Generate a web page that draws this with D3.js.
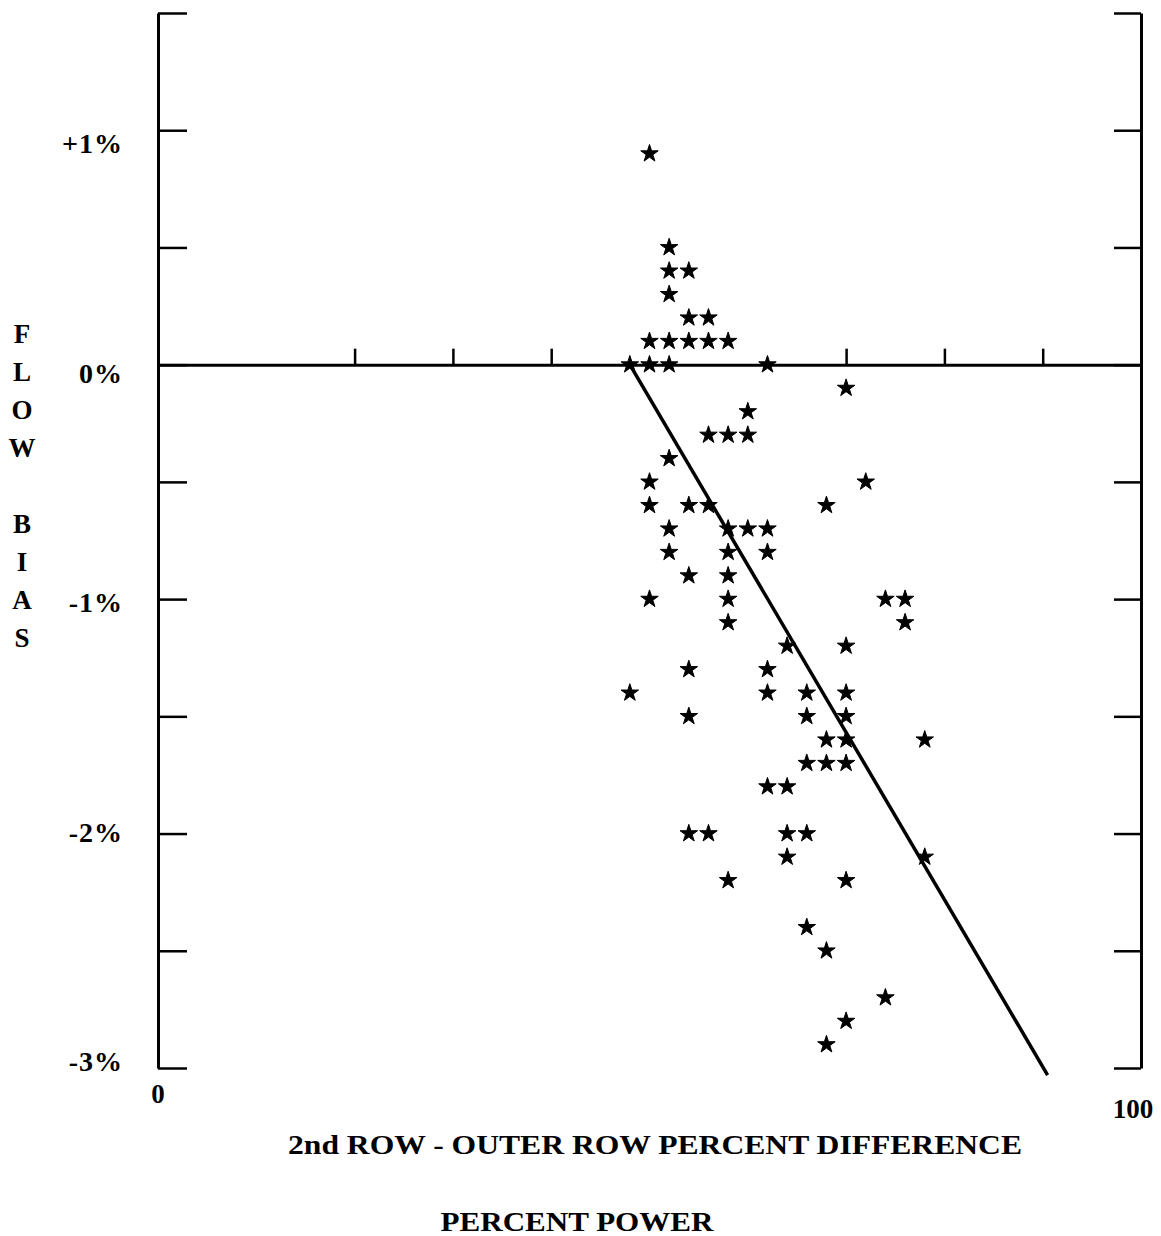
<!DOCTYPE html>
<html>
<head>
<meta charset="utf-8">
<script src="https://cdn.jsdelivr.net/npm/d3@7"></script>
<style>
  body { margin: 0; background: #fff; }
  text { font-family: "Liberation Serif", "DejaVu Serif", serif; font-weight: bold; fill: #000; }
</style>
</head>
<body>
<div id="chart"></div>
<script>
// scatter values
var percentDiff = [
    50,
    52,
    52, 54,
    52,
    54, 56,
    50, 52, 54, 56, 58,
    48, 50, 52, 62,
    70,
    60,
    56, 58, 60,
    52,
    50, 72,
    50, 54, 56, 68,
    52, 58, 60, 62,
    52, 58, 62,
    54, 58,
    50, 58, 74, 76,
    58, 76,
    64, 70,
    54, 62,
    48, 62, 66, 70,
    54, 66, 70,
    68, 70, 78,
    66, 68, 70,
    62, 64,
    54, 56, 64, 66,
    64, 78,
    58, 70,
    66,
    68,
    74,
    70,
    68
];
var flowBias = [
    0.9,
    0.5,
    0.4, 0.4,
    0.3,
    0.2, 0.2,
    0.1, 0.1, 0.1, 0.1, 0.1,
    0, 0, 0, 0,
    -0.1,
    -0.2,
    -0.3, -0.3, -0.3,
    -0.4,
    -0.5, -0.5,
    -0.6, -0.6, -0.6, -0.6,
    -0.7, -0.7, -0.7, -0.7,
    -0.8, -0.8, -0.8,
    -0.9, -0.9,
    -1.0, -1.0, -1.0, -1.0,
    -1.1, -1.1,
    -1.2, -1.2,
    -1.3, -1.3,
    -1.4, -1.4, -1.4, -1.4,
    -1.5, -1.5, -1.5,
    -1.6, -1.6, -1.6,
    -1.7, -1.7, -1.7,
    -1.8, -1.8,
    -2.0, -2.0, -2.0, -2.0,
    -2.1, -2.1,
    -2.2, -2.2,
    -2.4,
    -2.5,
    -2.7,
    -2.8,
    -2.9
];

// fitted line end points
var fitX = [48, 90.5];
var fitY = [0, -3.03];

var yTicks = [1.5, 1, 0.5, 0, -0.5, -1, -1.5, -2, -2.5, -3];
var yLabelVals = [1, 0, -1, -2, -3];
var yLabels = ["+1%", "0%", "-1%", "-2%", "-3%"];
var xTicks = [20, 30, 40, 70, 80, 90];
var xEndVals = [0, 100];
var xEndLabels = ["0", "100"];
var yTitle = "FLOW BIAS";

function render() {
    const width = 1161;
    const height = 1236;

    const x = d3.scaleLinear().domain([0, 100]).range([158, 1141]);
    const y = d3.scaleLinear().domain([-3, 1.5]).range([1068, 13]);
    // the printed labels drift a little against their ticks
    const yLab = d3.scaleLinear().domain([1, -3]).range([143, 1061]);

    const svg = d3.select("#chart")
        .append("svg")
        .attr("width", width)
        .attr("height", height);

    // left axis, ticks pointing in
    const leftAxis = d3.axisRight(y).tickValues(yTicks).tickSize(29).tickSizeOuter(0).tickFormat("");
    const gl = svg.append("g")
        .attr("transform", `translate(${x(0)},0)`)
        .call(leftAxis);

    // right axis, ticks pointing in
    const rightAxis = d3.axisLeft(y).tickValues(yTicks).tickSize(27).tickSizeOuter(0).tickFormat("");
    const gr = svg.append("g")
        .attr("transform", `translate(${x(100)},0)`)
        .call(rightAxis);

    // zero line with ticks on top
    const zeroAxis = d3.axisTop(x).tickValues(xTicks).tickSize(16).tickSizeOuter(0).tickFormat("");
    const gz = svg.append("g")
        .attr("transform", `translate(0,${y(0)})`)
        .call(zeroAxis);

    [gl, gr, gz].forEach(g => {
        g.select(".domain").attr("stroke", "#000").attr("stroke-width", 3);
        g.selectAll(".tick line").attr("stroke", "#000").attr("stroke-width", 2.5);
    });

    // y labels
    svg.selectAll(".ylab")
        .data(yLabelVals)
        .enter()
        .append("text")
        .attr("class", "ylab")
        .attr("x", 123)
        .attr("y", d => yLab(d) + 10)
        .attr("text-anchor", "end")
        .style("font-size", "28px")
        .style("letter-spacing", "1px")
        .text((d, i) => yLabels[i]);

    // x end labels
    svg.selectAll(".xlab")
        .data(xEndVals)
        .enter()
        .append("text")
        .attr("class", "xlab")
        .attr("x", d => x(d) - (d === 100 ? 8 : 0))
        .attr("y", (d, i) => i === 0 ? 1103 : 1118)
        .attr("text-anchor", "middle")
        .style("font-size", "27px")
        .text((d, i) => xEndLabels[i]);

    // vertical axis title, one letter per line
    const letters = yTitle.split("");
    svg.selectAll(".ytitle")
        .data(letters)
        .enter()
        .append("text")
        .attr("class", "ytitle")
        .attr("x", 22)
        .attr("y", (d, i) => 343 + i * 38)
        .attr("text-anchor", "middle")
        .style("font-size", "27px")
        .text(d => d);

    svg.append("text")
        .attr("x", 655)
        .attr("y", 1154)
        .attr("text-anchor", "middle")
        .attr("textLength", 734)
        .attr("lengthAdjust", "spacingAndGlyphs")
        .style("font-size", "28px")
        .text("2nd ROW - OUTER ROW PERCENT DIFFERENCE");

    svg.append("text")
        .attr("x", 577)
        .attr("y", 1231)
        .attr("text-anchor", "middle")
        .attr("textLength", 273)
        .attr("lengthAdjust", "spacingAndGlyphs")
        .style("font-size", "28px")
        .text("PERCENT POWER");

    // fitted line
    const line = d3.line().x(d => x(d[0])).y(d => y(d[1]));
    svg.append("path")
        .datum(fitX.map((v, i) => [v, fitY[i]]))
        .attr("d", line)
        .attr("fill", "none")
        .attr("stroke", "#000")
        .attr("stroke-width", 3.5);

    // stars
    const star = d3.symbol().type(d3.symbolStar).size(95);
    svg.selectAll(".pt")
        .data(percentDiff)
        .enter()
        .append("path")
        .attr("class", "pt")
        .attr("d", star)
        .attr("transform", (d, i) => `translate(${x(d)},${y(flowBias[i])})`)
        .attr("fill", "#000")
        .attr("stroke", "#000")
        .attr("stroke-width", 1)
        .attr("stroke-linejoin", "round");
}

render();
</script>
</body>
</html>
